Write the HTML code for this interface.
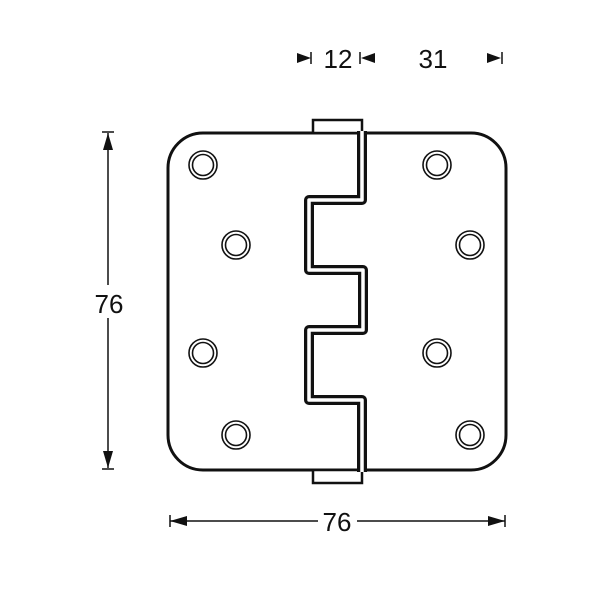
<!DOCTYPE html>
<html><head><style>body{margin:0;background:#fff}svg{display:block}</style></head><body>
<svg width="600" height="600" viewBox="0 0 600 600" xmlns="http://www.w3.org/2000/svg" font-family="Liberation Sans, sans-serif">
<rect width="600" height="600" fill="#fff"/>
<path d="M168,168 A35,35 0 0 1 203,133 L471,133 A35,35 0 0 1 506,168 L506,435 A35,35 0 0 1 471,470 L203,470 A35,35 0 0 1 168,435 Z" fill="#fff" stroke="#111" stroke-width="3"/>
<rect x="313" y="120" width="49" height="13" fill="#fff" stroke="#111" stroke-width="2.5"/>
<rect x="313" y="470" width="49" height="13" fill="#fff" stroke="#111" stroke-width="2.5"/>
<path d="M362,131 L362,200 L309,200 L309,270 L363,270 L363,330 L309,330 L309,400 L362,400 L362,472" fill="none" stroke="#111" stroke-width="10" stroke-linejoin="round"/>
<path d="M362,131 L362,200 L309,200 L309,270 L363,270 L363,330 L309,330 L309,400 L362,400 L362,472" fill="none" stroke="#fff" stroke-width="3.5" stroke-linejoin="round"/>
<g fill="none" stroke="#111" stroke-width="1.6">
<circle cx="203" cy="165" r="14"/><circle cx="203" cy="165" r="10.5"/>
<circle cx="236" cy="245" r="14"/><circle cx="236" cy="245" r="10.5"/>
<circle cx="203" cy="353" r="14"/><circle cx="203" cy="353" r="10.5"/>
<circle cx="236" cy="435" r="14"/><circle cx="236" cy="435" r="10.5"/>
<circle cx="437" cy="165" r="14"/><circle cx="437" cy="165" r="10.5"/>
<circle cx="470" cy="245" r="14"/><circle cx="470" cy="245" r="10.5"/>
<circle cx="437" cy="353" r="14"/><circle cx="437" cy="353" r="10.5"/>
<circle cx="470" cy="435" r="14"/><circle cx="470" cy="435" r="10.5"/>
</g>
<g stroke="#111" stroke-width="1.5">
<line x1="102" y1="132" x2="114" y2="132"/><line x1="102" y1="469" x2="114" y2="469"/>
<line x1="108" y1="133" x2="108" y2="285"/><line x1="108" y1="318" x2="108" y2="468"/>
<line x1="170" y1="515" x2="170" y2="527"/><line x1="505" y1="515" x2="505" y2="527"/>
<line x1="170" y1="521" x2="318" y2="521"/><line x1="357" y1="521" x2="505" y2="521"/>
<line x1="311" y1="52" x2="311" y2="64"/><line x1="360" y1="52" x2="360" y2="64"/><line x1="502" y1="52" x2="502" y2="64"/>
</g>
<g fill="#111">
<polygon points="108,133 103,150 113,150"/><polygon points="108,468 103,451 113,451"/>
<polygon points="170,521 187,516 187,526"/><polygon points="505,521 488,516 488,526"/>
<polygon points="297,53 311,58 297,63"/><polygon points="375,53 361,58 375,63"/><polygon points="487,53 501,58 487,63"/>
</g>
<g font-size="26" fill="#111" text-anchor="middle">
<text x="109" y="313">76</text>
<text x="337" y="531">76</text>
<text x="338" y="68">12</text>
<text x="433" y="68">31</text>
</g>
</svg>
</body></html>
